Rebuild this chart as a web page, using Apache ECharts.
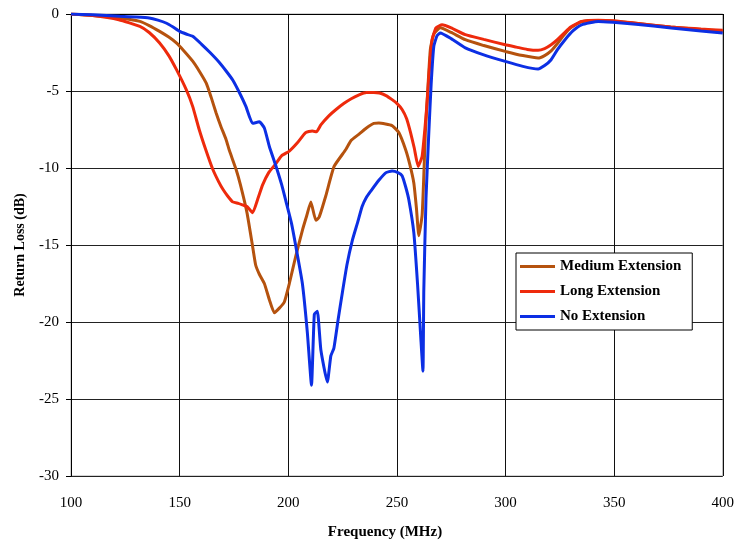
<!DOCTYPE html>
<html>
<head>
<meta charset="utf-8">
<script src="https://cdn.jsdelivr.net/npm/echarts@6/dist/echarts.min.js"></script>
<style>
  html, body { margin: 0; padding: 0; background: #fff; }
  #chart { width: 737px; height: 545px; }
</style>
</head>
<body>
<div id="chart"></div>
<script>
    'use strict';

    // frequency (MHz) / return loss (dB)
    var mediumFreq = [100, 110, 122.5, 131.7, 136, 140.8, 145, 148.5, 152, 156.1, 159, 162.2, 164.5, 166.8, 169, 171.4, 173, 176, 178, 181, 183.6, 185, 186.7, 189, 191.3, 193.6, 195.9, 198.2, 200.5, 203.5, 206.6, 208.5, 210.4, 212.7, 214.2, 217.3, 221.1, 226.5, 229, 232.6, 236, 239.4, 241.7, 247.8, 250.9, 254, 256, 257.8, 259, 260.1, 261.6, 262.4, 263.1, 264.2, 265.4, 267, 270, 275, 281.5, 290, 299.9, 308, 315, 318, 321, 324, 327, 330, 335, 342.7, 349.5, 360, 376, 390, 400];
    var mediumLoss = [0, -0.1, -0.26, -0.48, -0.75, -1.13, -1.5, -1.88, -2.4, -3.08, -3.7, -4.48, -5.4, -6.43, -7.3, -8.16, -8.9, -10.1, -11.1, -12.9, -15.1, -16.3, -16.9, -17.5, -18.55, -19.4, -19.1, -18.7, -17.5, -15.7, -14, -13.1, -12.2, -13.4, -13.2, -11.8, -9.9, -8.8, -8.2, -7.8, -7.4, -7.1, -7.08, -7.25, -7.7, -8.8, -9.8, -10.97, -12.6, -14.4, -13.1, -10.5, -7.7, -5.0, -2.3, -1.3, -0.9, -1.2, -1.67, -2.05, -2.43, -2.7, -2.86, -2.7, -2.4, -1.9, -1.35, -0.9, -0.5, -0.42, -0.45, -0.6, -0.85, -1.0, -1.1];

    var longFreq = [100, 110, 122, 131.7, 136, 140.8, 145, 148.5, 153, 156, 159, 162, 165.3, 168, 170, 172, 174.4, 177, 179, 181, 183.6, 186, 188.2, 191, 194.4, 197, 200.5, 204, 208, 211, 213, 215, 218.8, 222, 225.7, 229, 232.6, 236, 239.4, 242, 245, 247.8, 250, 252.4, 254.5, 256.3, 258, 259.8, 261.6, 263, 264, 265, 266.2, 268, 270.8, 275, 281.5, 290, 299.9, 305, 310, 315, 318, 321, 324, 327, 330, 335, 342.7, 349.5, 360, 376, 390, 400];
    var longLoss = [0, -0.1, -0.37, -0.8, -1.2, -1.88, -2.7, -3.6, -4.9, -6.0, -7.5, -8.8, -10.1, -10.9, -11.4, -11.8, -12.2, -12.3, -12.4, -12.5, -12.9, -12.0, -11.1, -10.3, -9.7, -9.2, -8.9, -8.4, -7.7, -7.6, -7.65, -7.2, -6.6, -6.2, -5.8, -5.5, -5.25, -5.1, -5.1, -5.13, -5.3, -5.56, -5.8, -6.2, -6.8, -7.7, -8.7, -9.9, -9.25, -7.3, -5.56, -3.5, -1.67, -0.9, -0.7, -0.9, -1.34, -1.65, -2.0, -2.15, -2.3, -2.36, -2.25, -2.0, -1.65, -1.24, -0.85, -0.48, -0.4, -0.43, -0.6, -0.85, -0.98, -1.06];

    var noFreq = [100, 110, 122.5, 130, 136, 140, 144, 147, 150, 153, 156, 160, 164, 168, 171.4, 174.5, 177.5, 180.5, 183.6, 186.7, 189, 191.3, 194.4, 197, 199, 201.5, 203.5, 206.5, 208.8, 210.7, 212, 213.4, 215, 218, 219.6, 221, 223, 224.9, 227, 229.5, 232, 234, 236, 238, 241.7, 245, 247.8, 250.5, 252.4, 254, 255.5, 257.8, 259.5, 261, 262, 262.4, 263.4, 264.7, 265.8, 267, 268.5, 270, 275, 281.5, 290, 299.9, 308, 315, 318, 321, 324, 327.4, 331, 335, 342.7, 349.5, 360, 376.3, 390, 400];
    var noLoss = [0, -0.05, -0.15, -0.2, -0.26, -0.4, -0.6, -0.85, -1.13, -1.3, -1.45, -1.95, -2.5, -3.1, -3.7, -4.3, -5.1, -6.0, -7.1, -7.0, -7.4, -8.6, -9.9, -11.1, -12.2, -13.6, -15.1, -17.5, -20.7, -24.1, -19.5, -19.3, -21.8, -23.9, -22.2, -21.7, -19.8, -18.1, -16.3, -14.7, -13.5, -12.5, -11.9, -11.5, -10.8, -10.3, -10.2, -10.3, -10.5, -11.2, -12.06, -14.2, -17.5, -21, -23.2, -17.9, -12, -7.7, -4.5, -2.1, -1.4, -1.23, -1.6, -2.2, -2.65, -3.08, -3.4, -3.57, -3.35, -2.97, -2.3, -1.67, -1.1, -0.7, -0.48, -0.54, -0.66, -0.91, -1.1, -1.23];

    var seriesNames = ['Medium Extension', 'Long Extension', 'No Extension'];
    var seriesColors = ['#b5520e', '#ee2a0c', '#0c2fe4'];

    var serif = '"Liberation Serif", "Times New Roman", serif';

    function pairs(xs, ys) {
        return xs.map(function (x, i) { return [x, ys[i]]; });
    }

    function lineSeries(name, color, xs, ys) {
        return {
            name : name,
            type : 'line',
            data : pairs(xs, ys),
            showSymbol : false,
            symbol : 'none',
            smooth : 0.15,
            lineStyle : { color : color, width : 3 },
            itemStyle : { color : color }
        };
    }

    var option = {
        animation : false,
        backgroundColor : '#fff',
        grid : {
            left : 71, right : 12, top : 14, bottom : 69,
            show : true, borderColor : '#a8a8a8', borderWidth : 1
        },
        xAxis : {
            type : 'value',
            min : 100, max : 400, interval : 50,
            axisLine : { lineStyle : { color : '#000', width : 1 } },
            axisTick : { show : true, length : 5, lineStyle : { color : '#000' } },
            axisLabel : { color : '#000', fontFamily : serif, fontSize : 15, margin : 20 },
            splitLine : { show : true, lineStyle : { color : '#111', width : 1 } }
        },
        yAxis : {
            type : 'value',
            min : -30, max : 0, interval : 5,
            axisLine : { show : true, onZero : false, lineStyle : { color : '#000', width : 1 } },
            axisTick : { show : true, length : 5, lineStyle : { color : '#000' } },
            axisLabel : { color : '#000', fontFamily : serif, fontSize : 15, margin : 12 },
            splitLine : { show : true, lineStyle : { color : '#222', width : 1 } }
        },
        legend : {
            left : 516, top : 253,
            orient : 'vertical',
            data : seriesNames,
            icon : 'rect',
            itemWidth : 35, itemHeight : 3, itemGap : 10,
            padding : [6, 11, 6, 4],
            backgroundColor : '#fff',
            borderColor : '#000', borderWidth : 1, borderRadius : 0,
            textStyle : { color : '#000', fontFamily : serif, fontSize : 15, fontWeight : 'bold' }
        },
        graphic : [
            {
                type : 'text', x : 385, y : 532,
                style : { text : 'Frequency (MHz)', fill : '#000', font : 'bold 15px ' + serif, align : 'center', verticalAlign : 'middle' }
            },
            {
                type : 'text', x : 20, y : 245, rotation : Math.PI / 2,
                style : { text : 'Return Loss (dB)', fill : '#000', font : 'bold 14px ' + serif, align : 'center', verticalAlign : 'middle' }
            }
        ],
        series : [
            lineSeries(seriesNames[0], seriesColors[0], mediumFreq, mediumLoss),
            lineSeries(seriesNames[1], seriesColors[1], longFreq, longLoss),
            lineSeries(seriesNames[2], seriesColors[2], noFreq, noLoss)
        ]
    };

    var chart = echarts.init(document.getElementById('chart'), null, { renderer : 'canvas' });
    chart.setOption(option);
</script>
</body>
</html>
